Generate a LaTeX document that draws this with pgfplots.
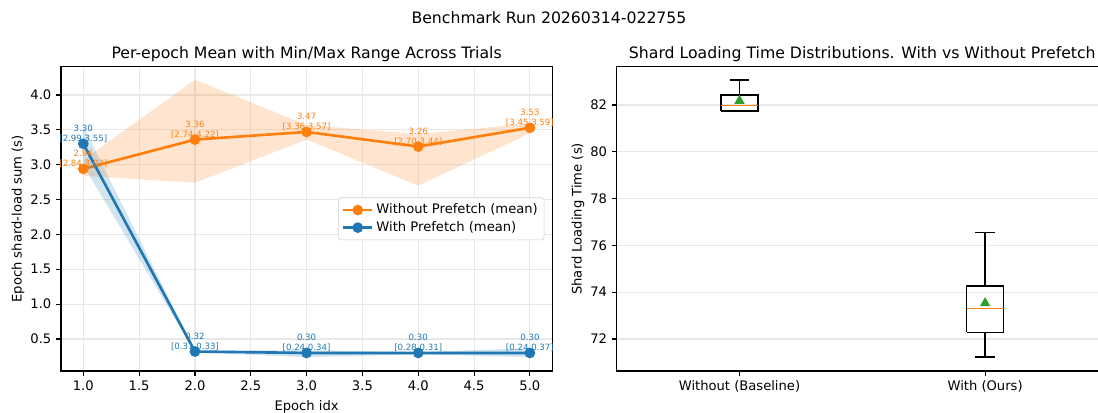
\documentclass[border=0pt]{standalone}
\usepackage{fontspec}
\setmainfont{DejaVu Sans}
\usepackage{pgfplots}
\pgfplotsset{compat=1.18}

\definecolor{mplblue}{HTML}{1F77B4}
\definecolor{mplorange}{HTML}{FF7F0E}
\definecolor{mplgreen}{HTML}{2CA02C}
\definecolor{gridgray}{HTML}{E8E8E8}

\pgfplotsset{
  mplstyle/.style={
    scale only axis, width=353.7pt, height=219.1pt,
    axis line style={line width=0.8pt, black},
    tick align=outside, tick pos=left, major tick length=3.4pt,
    tick style={black, line width=0.8pt},
    tick label style={font=\fontsize{9.45}{11}\selectfont},
    label style={font=\fontsize{9.45}{11}\selectfont},
    ylabel style={yshift=-2.5pt},
    title style={font=\fontsize{11.3}{13}\selectfont, yshift=-6pt},
    /pgf/number format/assume math mode=true,
    grid style={gridgray, line width=0.8pt},
  },
}
\tikzset{lab/.style={anchor=south, align=center, inner sep=0pt, yshift=0.8pt,
    font=\fontsize{6.2}{7.2}\selectfont}}

\begin{document}
\begin{tikzpicture}
\useasboundingbox (0,0) rectangle (790.56pt,297.36pt);
\clip (0,0) rectangle (790.56pt,297.36pt);
\node[font=\fontsize{11.3}{13}\selectfont] at (395.3pt,284.4pt) {Benchmark Run 20260314-022755};

% left: per-epoch mean with min/max band
\begin{axis}[mplstyle, at={(43.9pt,30.24pt)}, anchor=south west,
  xmin=0.8, xmax=5.2, ymin=0.041, ymax=4.406,
  xtick={1,1.5,2,2.5,3,3.5,4,4.5,5}, ytick={0.5,1,1.5,2,2.5,3,3.5,4},
  xticklabel style={/pgf/number format/.cd, fixed, fixed zerofill, precision=1},
  yticklabel style={/pgf/number format/.cd, fixed, fixed zerofill, precision=1},
  grid=major,
  xlabel={Epoch idx}, ylabel={Epoch shard-load sum (s)},
  title={Per-epoch Mean with Min/Max Range Across Trials},
  legend style={at={(0.984,0.5)}, anchor=east, font=\fontsize{9.45}{11.5}\selectfont,
    draw=black!20, rounded corners=2pt, inner sep=2.5pt},
  legend cell align=left,
  legend image code/.code={\draw[mark repeat=2, mark phase=2, #1]
    plot coordinates {(0pt,0pt) (10.5pt,0pt) (21pt,0pt)};},
]
\addplot[fill=mplorange, fill opacity=0.2, draw=none, forget plot] coordinates {
(1,2.84)(2,2.74)(3,3.36)(4,2.70)(5,3.45)(5,3.59)(4,3.44)(3,3.57)(2,4.22)(1,3.07)};
\addplot[mplorange, line width=1.9pt, mark=*, mark size=2.85pt, mark options={solid, fill=mplorange}] coordinates {
(1,2.94)(2,3.36)(3,3.47)(4,3.26)(5,3.53)};
\addlegendentry{Without Prefetch (mean)}
\addplot[fill=mplblue, fill opacity=0.2, draw=none, forget plot] coordinates {
(1,2.99)(2,0.31)(3,0.24)(4,0.28)(5,0.24)(5,0.37)(4,0.31)(3,0.34)(2,0.33)(1,3.55)};
\addplot[mplblue, line width=1.9pt, mark=*, mark size=2.85pt, mark options={solid, fill=mplblue}] coordinates {
(1,3.30)(2,0.32)(3,0.30)(4,0.30)(5,0.30)};
\addlegendentry{With Prefetch (mean)}

\node[lab, text=mplorange] at (axis cs:1,2.94) {2.94\\{}[2.84,3.07]};
\node[lab, text=mplorange] at (axis cs:2,3.36) {3.36\\{}[2.74,4.22]};
\node[lab, text=mplorange] at (axis cs:3,3.47) {3.47\\{}[3.36,3.57]};
\node[lab, text=mplorange] at (axis cs:4,3.26) {3.26\\{}[2.70,3.44]};
\node[lab, text=mplorange] at (axis cs:5,3.53) {3.53\\{}[3.45,3.59]};
\node[lab, text=mplblue] at (axis cs:1,3.30) {3.30\\{}[2.99,3.55]};
\node[lab, text=mplblue] at (axis cs:2,0.32) {0.32\\{}[0.31,0.33]};
\node[lab, text=mplblue] at (axis cs:3,0.30) {0.30\\{}[0.24,0.34]};
\node[lab, text=mplblue] at (axis cs:4,0.30) {0.30\\{}[0.28,0.31]};
\node[lab, text=mplblue] at (axis cs:5,0.30) {0.30\\{}[0.24,0.37]};
\end{axis}

% right: box plots of shard loading time (boxes, whiskers, caps, medians)
\begin{axis}[mplstyle, at={(444pt,30.24pt)}, anchor=south west,
  xmin=0.5, xmax=2.5, ymin=70.63, ymax=83.64,
  xtick={1,2}, xticklabels={Without (Baseline), With (Ours)},
  ytick={72,74,76,78,80,82}, ymajorgrids,
  ylabel={Shard Loading Time (s)},
  title={Shard Loading Time Distributions. With vs Without Prefetch},
  every axis plot/.append style={line width=0.95pt},
]
% without (baseline)
\addplot[black] coordinates {(0.925,81.74)(1.075,81.74)(1.075,82.43)(0.925,82.43)(0.925,81.74)};
\addplot[black] coordinates {(1,82.43)(1,83.07)};
\addplot[black] coordinates {(0.96,83.07)(1.04,83.07)};
\addplot[black] coordinates {(0.96,81.73)(1.04,81.73)};
\addplot[mplorange] coordinates {(0.925,81.99)(1.075,81.99)};
% with (ours)
\addplot[black] coordinates {(1.925,72.29)(2.075,72.29)(2.075,74.26)(1.925,74.26)(1.925,72.29)};
\addplot[black] coordinates {(2,74.26)(2,76.54)};
\addplot[black] coordinates {(2,72.29)(2,71.23)};
\addplot[black] coordinates {(1.96,76.54)(2.04,76.54)};
\addplot[black] coordinates {(1.96,71.23)(2.04,71.23)};
\addplot[mplorange] coordinates {(1.925,73.31)(2.075,73.31)};
% means
\addplot[only marks, mark=triangle*, mark size=3.4pt,
  mark options={fill=mplgreen, draw=mplgreen}] coordinates {(1,82.18)(2,73.53)};
\end{axis}
\end{tikzpicture}
\end{document}
